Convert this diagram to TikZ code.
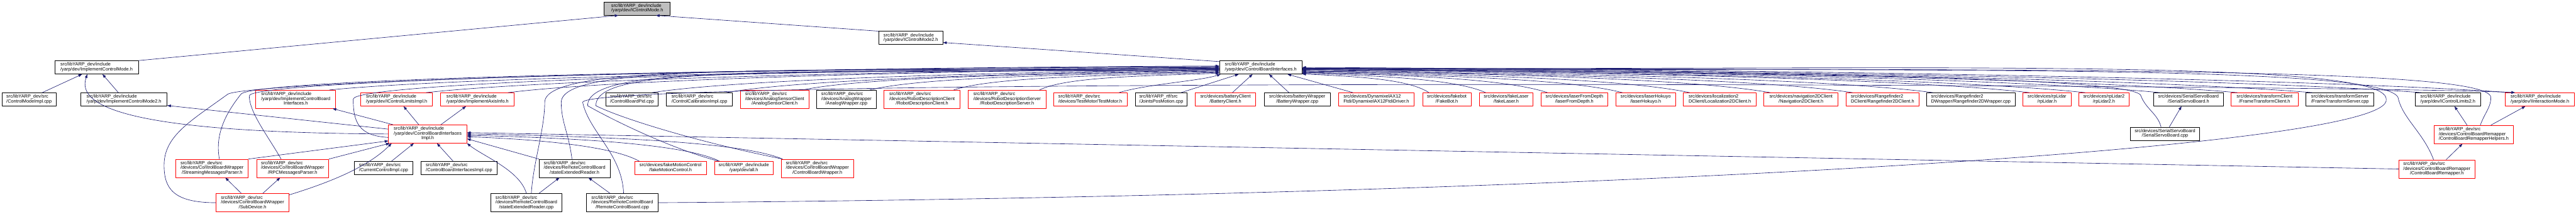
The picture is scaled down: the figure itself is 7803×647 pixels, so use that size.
\documentclass[tikz,border=0pt]{standalone}
\usepackage{fontspec}
\setmainfont{Liberation Sans}
\usetikzlibrary{arrows.meta}
\definecolor{edgeblue}{HTML}{191970}
\definecolor{rootgray}{HTML}{BFBFBF}
\newcommand{\flab}[2]{\begin{tabular}{@{}l@{}}#1\\\multicolumn{1}{@{}c@{}}{#2}\end{tabular}}
\newcommand{\flabb}[3]{\begin{tabular}{@{}l@{}}#1\\#2\\\multicolumn{1}{@{}c@{}}{#3}\end{tabular}}
\begin{document}
\begin{tikzpicture}[
    x=1pt, y=-1pt,
    >={Triangle[length=11pt,width=8pt]},
    line join=round,
    file/.style={draw=black, fill=white, line width=1.4pt, inner sep=0pt,
                 font=\fontsize{14}{14.3}\selectfont},
    filered/.style={file, draw=red},
    fileroot/.style={file, fill=rootgray},
    h2/.style={minimum height=40pt},
    h3/.style={minimum height=55pt},
    wd/.style={minimum width=#1pt},
    dep/.style={->, draw=edgeblue, line width=1.2pt}
]

  % ==================== PARAMETERS ====================
  \def\yR{26}      % root
  \def\yA{115}     % IControlMode2.h
  \def\yB{204}     % ControlBoardInterfaces.h row
  \def\yCb{301}    % third row, two lines
  \def\yCc{300.5}  % third row, three lines
  \def\yD{405.5}   % fourth row
  \def\yEb{508.5}  % fifth row, two lines
  \def\yEc{509.5}  % fifth row, three lines
  \def\yF{613.5}   % last row

  \useasboundingbox (0,0) rectangle (7803,647);

  % ==================== 1. TOP ====================
  \node[fileroot, h2, wd=200] (root) at (1930,\yR) {\flab{src/libYARP\_dev/include}{/yarp/dev/IControlMode.h}};
  \node[file, h2, wd=194] (icm2) at (2759,\yA) {\flab{src/libYARP\_dev/include}{/yarp/dev/IControlMode2.h}};
  \node[file, h2, wd=253] (implcm) at (292.5,\yB) {\flab{src/libYARP\_dev/include}{/yarp/dev/ImplementControlMode.h}};
  \node[file, h2, wd=250] (cbi) at (3819,\yB) {\flab{src/libYARP\_dev/include}{/yarp/dev/ControlBoardInterfaces.h}};

  % ==================== 2. THIRD ROW ====================
  \node[file, h2, wd=164] (cmimpl) at (88,\yCb) {\flab{src/libYARP\_dev/src}{/ControlModeImpl.cpp}};
  \node[file, h2, wd=261] (implcm2) at (375.5,\yCb) {\flab{src/libYARP\_dev/include}{/yarp/dev/ImplementControlMode2.h}};
  \node[filered, h3, wd=242] (icbi) at (896,\yCc) {\flabb{src/libYARP\_dev/include}{/yarp/dev/ImplementControlBoard}{Interfaces.h}};
  \node[filered, h2, wd=217] (iclimpl) at (1201.5,\yCb) {\flab{src/libYARP\_dev/include}{/yarp/dev/IControlLimitsImpl.h}};
  \node[filered, h2, wd=223] (axis) at (1446.5,\yCb) {\flab{src/libYARP\_dev/include}{/yarp/dev/ImplementAxisInfo.h}};
  \node[file, h2, wd=159] (pid) at (1914.5,\yCb) {\flab{src/libYARP\_dev/src}{/ControlBoardPid.cpp}};
  \node[file, h2, wd=201] (calib) at (2118.5,\yCb) {\flab{src/libYARP\_dev/src}{/ControlCalibrationImpl.cpp}};
  \node[filered, h3, wd=207] (anacl) at (2346.5,\yCc) {\flabb{src/libYARP\_dev/src}{/devices/AnalogSensorClient}{/AnalogSensorClient.h}};
  \node[file, h3, wd=180] (anawr) at (2564,\yCc) {\flabb{src/libYARP\_dev/src}{/devices/AnalogWrapper}{/AnalogWrapper.cpp}};
  \node[filered, h3, wd=230] (rdcl) at (2793,\yCc) {\flabb{src/libYARP\_dev/src}{/devices/RobotDescriptionClient}{/RobotDescriptionClient.h}};
  \node[filered, h3, wd=235] (rdsv) at (3050.5,\yCc) {\flabb{src/libYARP\_dev/src}{/devices/RobotDescriptionServer}{/RobotDescriptionServer.h}};
  \node[filered, h2, wd=223] (testmotor) at (3302.5,\yCb) {\flab{src/libYARP\_dev/src}{/devices/TestMotor/TestMotor.h}};
  \node[file, h2, wd=157] (jpm) at (3517.5,\yCb) {\flab{src/libYARP\_rtf/src}{/JointsPosMotion.cpp}};
  \node[filered, h2, wd=184] (batcl) at (3712,\yCb) {\flab{src/devices/batteryClient}{/BatteryClient.h}};
  \node[file, h2, wd=201] (batwr) at (3929.5,\yCb) {\flab{src/devices/batteryWrapper}{/BatteryWrapper.cpp}};
  \node[filered, h2, wd=230] (dyn) at (4169,\yCb) {\flab{src/devices/DynamixelAX12}{Ftdi/DynamixelAX12FtdiDriver.h}};
  \node[filered, h2, wd=147] (fakebot) at (4382.5,\yCb) {\flab{src/devices/fakebot}{/FakeBot.h}};
  \node[filered, h2, wd=163] (fakelaser) at (4562.5,\yCb) {\flab{src/devices/fakeLaser}{/fakeLaser.h}};
  \node[filered, h2, wd=202] (lfd) at (4769,\yCb) {\flab{src/devices/laserFromDepth}{/laserFromDepth.h}};
  \node[filered, h2, wd=180] (hokuyo) at (4985,\yCb) {\flab{src/devices/laserHokuyo}{/laserHokuyo.h}};
  \node[filered, h2, wd=221] (loc2d) at (5209.5,\yCb) {\flab{src/devices/localization2}{DClient/Localization2DClient.h}};
  \node[filered, h2, wd=225] (nav2d) at (5455.5,\yCb) {\flab{src/devices/navigation2DClient}{/Navigation2DClient.h}};
  \node[filered, h2, wd=221] (rf2dcl) at (5702.5,\yCb) {\flab{src/devices/Rangefinder2}{DClient/Rangefinder2DClient.h}};
  \node[file, h2, wd=268] (rf2dwr) at (5970,\yCb) {\flab{src/devices/Rangefinder2}{DWrapper/Rangefinder2DWrapper.cpp}};
  \node[filered, h2, wd=145] (rplidar) at (6200.5,\yCb) {\flab{src/devices/rpLidar}{/rpLidar.h}};
  \node[filered, h2, wd=152] (rplidar2) at (6373,\yCb) {\flab{src/devices/rpLidar2}{/rpLidar2.h}};
  \node[file, h2, wd=212] (ssbh) at (6629,\yCb) {\flab{src/devices/SerialServoBoard}{/SerialServoBoard.h}};
  \node[filered, h2, wd=203] (ftcl) at (6859.5,\yCb) {\flab{src/devices/transformClient}{/FrameTransformClient.h}};
  \node[file, h2, wd=206] (ftsv) at (7088,\yCb) {\flab{src/devices/transformServer}{/FrameTransformServer.cpp}};
  \node[file, h2, wd=198] (icl2) at (7415,\yCb) {\flab{src/libYARP\_dev/include}{/yarp/dev/IControlLimits2.h}};
  \node[filered, h2, wd=209] (iim) at (7693.5,\yCb) {\flab{src/libYARP\_dev/include}{/yarp/dev/IInteractionMode.h}};

  % ==================== 3. FOURTH ROW ====================
  \node[filered, h3, wd=237] (cbiimpl) at (1295.5,\yD) {\flabb{src/libYARP\_dev/include}{/yarp/dev/ControlBoardInterfaces}{Impl.h}};
  \node[file, h2, wd=210] (ssbcpp) at (6558,405) {\flab{src/devices/SerialServoBoard}{/SerialServoBoard.cpp}};
  \node[filered, h3, wd=240] (cbrh) at (7493,407) {\flabb{src/libYARP\_dev/src}{/devices/ControlBoardRemapper}{/ControlBoardRemapperHelpers.h}};

  % ==================== 4. FIFTH ROW ====================
  \node[filered, h3, wd=219] (smp) at (642.5,\yEc) {\flabb{src/libYARP\_dev/src}{/devices/ControlBoardWrapper}{/StreamingMessagesParser.h}};
  \node[filered, h3, wd=219] (rpc) at (886.5,\yEc) {\flabb{src/libYARP\_dev/src}{/devices/ControlBoardWrapper}{/RPCMessagesParser.h}};
  \node[file, h2, wd=178] (cci) at (1162,\yEb) {\flab{src/libYARP\_dev/src}{/CurrentControlImpl.cpp}};
  \node[file, h2, wd=231] (cbiicpp) at (1390.5,\yEb) {\flab{src/libYARP\_dev/src}{/ControlBoardInterfacesImpl.cpp}};
  \node[file, h3, wd=215] (serh) at (1740.5,\yEc) {\flabb{src/libYARP\_dev/src}{/devices/RemoteControlBoard}{/stateExtendedReader.h}};
  \node[filered, h2, wd=218] (fmc) at (2031,\yEb) {\flab{src/devices/fakeMotionControl}{/fakeMotionControl.h}};
  \node[filered, h2, wd=176] (allh) at (2253,\yEb) {\flab{src/libYARP\_dev/include}{/yarp/dev/all.h}};
  \node[filered, h3, wd=220] (cbw) at (2476,\yEc) {\flabb{src/libYARP\_dev/src}{/devices/ControlBoardWrapper}{/ControlBoardWrapper.h}};
  \node[filered, h3, wd=231] (cbr) at (7381.5,511.5) {\flabb{src/libYARP\_dev/src}{/devices/ControlBoardRemapper}{/ControlBoardRemapper.h}};

  % ==================== 5. LAST ROW ====================
  \node[filered, h3, wd=220] (subdev) at (765,\yF) {\flabb{src/libYARP\_dev/src}{/devices/ControlBoardWrapper}{/SubDevice.h}};
  \node[file, h3, wd=215] (sercpp) at (1594.5,\yF) {\flabb{src/libYARP\_dev/src}{/devices/RemoteControlBoard}{/stateExtendedReader.cpp}};
  \node[file, h3, wd=216] (rcbcpp) at (1885,\yF) {\flabb{src/libYARP\_dev/src}{/devices/RemoteControlBoard}{/RemoteControlBoard.cpp}};

  % ==================== 6. EDGES TO THE TOP ====================
  \draw[dep] (implcm.north east) -- (root.-160);
  \draw[dep] (icm2.north west) -- (root.-20);
  \draw[dep] (cbi.172) -- (icm2.-8);

  % ==================== 7. ImplementControlMode ====================
  \draw[dep] ([xshift=40]cmimpl.north) -- ([xshift=-44]implcm.south);
  \draw[dep] ([xshift=-17]implcm2.north) -- ([xshift=18]implcm.south);
  \draw[dep] (cbiimpl.west) .. controls +(-780,-4) and +(-35,100) .. ([xshift=-28]implcm.south);
  \draw[dep] (cbiimpl.173) -- (implcm2.-8);
  \draw[dep] ([xshift=14]cbiimpl.north west) -- ([xshift=-10]icbi.south east);
  \draw[dep] ([xshift=-27]cbiimpl.north) -- ([xshift=21]iclimpl.south);
  \draw[dep] ([xshift=40]cbiimpl.north) -- ([xshift=-35]axis.south);

  % ==================== 8. INTO ControlBoardInterfacesImpl.h ====================
  \draw[dep] (smp.north east) -- (cbiimpl.-170);
  \draw[dep] (rpc.north east) -- ([xshift=4]cbiimpl.south west);
  \draw[dep] (subdev.12) .. controls +(130,-40) and +(-70,70) .. ([xshift=10]cbiimpl.south west);
  \draw[dep] ([xshift=24]cci.north) -- ([xshift=-42]cbiimpl.south);
  \draw[dep] ([xshift=-18]cbiicpp.north) -- ([xshift=28]cbiimpl.south);
  \draw[dep] (serh.north west) -- (cbiimpl.-7);
  \draw[dep] (sercpp.north) .. controls +(-20,-70) and +(50,40) .. (cbiimpl.south east);
  \draw[dep] ([xshift=15]fmc.north west) .. controls +(-80,-45) and +(220,8) .. (cbiimpl.-4);
  \draw[dep] ([xshift=15]allh.north west) .. controls +(-100,-50) and +(350,8) .. (cbiimpl.-2);
  \draw[dep] ([xshift=5]cbw.north west) .. controls +(-120,-50) and +(450,8) .. (cbiimpl.0);
  \draw[dep] (cbr.west) -- (cbiimpl.2);

  % ==================== 9. SHORT EDGES ====================
  \draw[dep] ([xshift=-34]subdev.north) -- ([xshift=40]smp.south);
  \draw[dep] ([xshift=31]subdev.north) -- ([xshift=-38]rpc.south);
  \draw[dep] ([xshift=38]sercpp.north) -- ([xshift=-46]serh.south);
  \draw[dep] ([xshift=-37]rcbcpp.north) -- ([xshift=42]serh.south);
  \draw[dep] ([xshift=13]ssbcpp.north) -- ([xshift=-21]ssbh.south);
  \draw[dep] ([xshift=28]cbr.north) -- ([xshift=-34]cbrh.south);
  \draw[dep] ([xshift=-20]cbrh.north) -- ([xshift=20]icl2.south);
  \draw[dep] ([xshift=52]cbrh.north) -- ([xshift=-44]iim.south);

  % ==================== 10. INTO ControlBoardInterfaces.h (LEFT) ====================
  \foreach \f/\a/\p/\h in {icbi/180/400/1080, iclimpl/181/360/960, axis/181/320/860,
      pid/183/260/690, calib/184/225/600, anacl/185/190/500, anawr/186/160/420,
      rdcl/187/120/320, rdsv/188/80/220}{
    \draw[dep] ([xshift=-20]\f.north east) .. controls +(\p,-40) and +(-\h,8) .. (cbi.\a);
  }
  \draw[dep] ([xshift=-25]testmotor.north east) .. controls +(80,-25) and +(-60,20) .. ([xshift=4]cbi.south west);
  \draw[dep] ([xshift=60]jpm.north) -- ([xshift=-67]cbi.south);
  \draw[dep] ([xshift=21]batcl.north) -- ([xshift=-25]cbi.south);
  \draw[dep] ([xshift=-25]batwr.north) -- ([xshift=25]cbi.south);
  \draw[dep] ([xshift=45]dyn.north west) -- ([xshift=81]cbi.south);

  % lower rows climb through the gaps
  \draw[dep] (subdev.west) .. controls +(-130,0) and +(0,70) .. (497,500)
    .. controls +(0,-90) and +(-110,80) .. (690,285) .. controls +(50,-30) and +(-1800,8) .. (cbi.178);
  \draw[dep] ([xshift=22]smp.north) .. controls +(-15,-80) and +(-40,50) .. (730,285)
    .. controls +(30,-40) and +(-1800,8) .. (cbi.179);
  \draw[dep] ([xshift=-35]rpc.north) .. controls +(-40,-70) and +(0,50) .. (755,290)
    .. controls +(0,-40) and +(-1800,8) .. (cbi.179);
  \draw[dep] (cbiimpl.185) .. controls +(-90,-5) and +(0,70) .. (1070,300)
    .. controls +(0,-45) and +(-1500,8) .. (cbi.180);
  \draw[dep] ([xshift=15]sercpp.north) .. controls +(5,-90) and +(0,80) .. (1650,310)
    .. controls +(0,-120) and +(-1300,8) .. (cbi.182);
  \draw[dep] ([xshift=-8]serh.north) .. controls +(-10,-80) and +(0,60) .. (1700,310)
    .. controls +(0,-120) and +(-1300,8) .. (cbi.182);
  \draw[dep] ([xshift=12]allh.north west) .. controls +(-150,-40) and +(70,40) .. (1780,320)
    .. controls +(0,-120) and +(-1400,8) .. (cbi.183);
  \draw[dep] ([xshift=5]cbw.north west) .. controls +(-250,-50) and +(80,40) .. (1805,320)
    .. controls +(0,-120) and +(-1400,8) .. (cbi.184);
  \draw[dep] ([xshift=4]rcbcpp.north) .. controls +(-5,-120) and +(20,90) .. (1765,310)
    .. controls +(-5,-80) and +(-500,-25) .. ([xshift=30]iim.north west);

  % ==================== 11. INTO ControlBoardInterfaces.h (RIGHT) ====================
  \foreach \f/\a/\p/\h in {fakebot/-9/60/175, fakelaser/-8/90/250, lfd/-7/120/340,
      hokuyo/-7/155/440, loc2d/-6/190/530, nav2d/-5/230/640, rf2dcl/-5/270/750,
      rf2dwr/-4/305/860, rplidar/-3/350/990, rplidar2/-3/380/1070, ssbh/-2/415/1170,
      ftcl/-2/450/1280, ftsv/-1/490/1380, icl2/-1/540/1530, iim/0/580/1650}{
    \draw[dep] ([xshift=20]\f.north west) .. controls +(-\p,-40) and +(\h,8) .. (cbi.\a);
  }
  \draw[dep] ([xshift=-12]ssbcpp.north) .. controls +(-10,-40) and +(15,40) .. (6485,290)
    .. controls +(-10,-60) and +(1300,8) .. (cbi.-3);
  \draw[dep] ([xshift=-10]cbr.north) .. controls +(-30,-80) and +(15,60) .. (7265,300)
    .. controls +(0,-110) and +(1800,8) .. (cbi.-2);
  \draw[dep] ([xshift=20]cbrh.north) .. controls +(15,-40) and +(0,30) .. (7545,295)
    .. controls +(0,-100) and +(2000,8) .. (cbi.-1);
  \draw[dep] (rcbcpp.east) .. controls +(2800,-20) and +(30,150) .. (7228,300)
    .. controls +(0,-130) and +(1700,8) .. (cbi.-1);

\end{tikzpicture}
\end{document}
